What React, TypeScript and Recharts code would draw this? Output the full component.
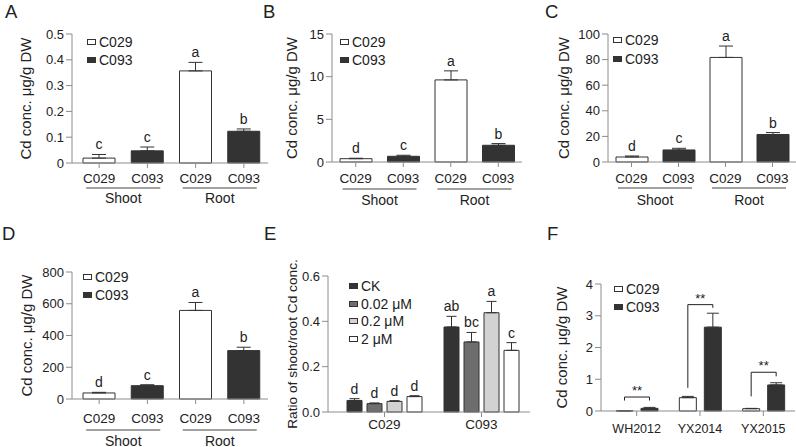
import React from "react";
import { BarChart, Bar, XAxis, YAxis, ErrorBar, LabelList, Cell } from "recharts";

const FONT = '"Liberation Sans", Arial, sans-serif';
const INK = "#222222";
const AXIS = "#8c8c8c";
const DARK = "#333333";
const CD_LABEL = "Cd conc. μg/g DW";

// A–D: two genotypes, shoot and root
const genotypes = ["C029", "C093", "C029", "C093"];
const tissues = ["Shoot", "Shoot", "Root", "Root"];

const aTicks = [0, 0.1, 0.2, 0.3, 0.4, 0.5];
const aMean = [0.019, 0.047, 0.357, 0.123];
const aSd = [0.014, 0.015, 0.033, 0.009];
const aLetters = ["c", "c", "a", "b"];

const bTicks = [0, 5, 10, 15];
const bMean = [0.39, 0.67, 9.62, 1.96];
const bSd = [0.05, 0.12, 1.06, 0.2];
const bLetters = ["d", "c", "a", "b"];

const cTicks = [0, 20, 40, 60, 80, 100];
const cMean = [3.9, 9.4, 81.7, 21.5];
const cSd = [0.8, 1.3, 8.9, 1.5];
const cLetters = ["d", "c", "a", "b"];

const dTicks = [0, 200, 400, 600, 800];
const dMean = [38, 84, 558, 305];
const dSd = [4, 6, 50, 21];
const dLetters = ["d", "c", "a", "b"];

// E: shoot/root ratio under four Cd levels
const eGroups = ["C029", "C093"];
const eLevels = ["CK", "0.02 μM", "0.2 μM", "2 μM"];
const eCK = [0.051, 0.375];
const eCKSd = [0.008, 0.047];
const e002 = [0.037, 0.309];
const e002Sd = [0.003, 0.042];
const e02 = [0.047, 0.438];
const e02Sd = [0.003, 0.05];
const e2 = [0.068, 0.272];
const e2Sd = [0.004, 0.034];
const eCKLetters = ["d", "ab"];
const e002Letters = ["d", "bc"];
const e02Letters = ["d", "a"];
const e2Letters = ["d", "c"];
const eTicks = [0, 0.2, 0.4, 0.6];

// F: field trials
const fSites = ["WH2012", "YX2014", "YX2015"];
const fC029 = [0.005, 0.42, 0.073];
const fC029Sd = [0, 0.04, 0.01];
const fC093 = [0.084, 2.64, 0.82];
const fC093Sd = [0.03, 0.44, 0.07];
const fBracketTop = [0.44, 3.35, 1.22];
const fBracketLeft = [0.33, 0.73, 0.46];
const fBracketRight = [0.33, 3.25, 1.09];
const fTicks = [0, 1, 2, 3, 4];

const genotypeFill = ["#ffffff", DARK, "#ffffff", DARK];
const eFills = [DARK, "#6e6e6e", "#d2d2d2", "#ffffff"];

function letterContent(means: number[], sds: number[], letters: string[]) {
  return (props: any) => {
    const vb = props.viewBox ?? props;
    const i = props.index;
    const v = means[i];
    if (!letters[i] || !v) return null;
    const k = vb.height / v;
    const base = vb.y + vb.height;
    const top = base - (v + sds[i]) * k;
    return (
      <text x={vb.x + vb.width / 2} y={top - 5} textAnchor="middle" fontSize={14} fill={INK} fontFamily={FONT}>
        {letters[i]}
      </text>
    );
  };
}

function GroupTick(props: any) {
  const { x, y, payload, lineDy, textDy } = props;
  return (
    <g>
      <line x1={x - 37} x2={x + 37} y1={y + lineDy} y2={y + lineDy} stroke="#444" strokeWidth={1.2} />
      <text x={x} y={y + textDy} textAnchor="middle" fontSize={14} fill={INK} fontFamily={FONT}>
        {payload.value}
      </text>
    </g>
  );
}

function Key({ x, y, rowH, items }: { x: number; y: number; rowH: number; items: { name: string; fill: string }[] }) {
  return (
    <>
      {items.map((it, i) => (
        <div
          key={it.name}
          style={{
            position: "absolute",
            left: x,
            top: y + i * rowH - 9,
            height: 18,
            display: "flex",
            alignItems: "center",
            fontSize: 14,
            whiteSpace: "nowrap",
          }}
        >
          <span
            style={{
              display: "inline-block",
              width: 7,
              height: 4,
              border: `1px solid ${DARK}`,
              background: it.fill,
              marginRight: 3,
            }}
          />
          {it.name}
        </div>
      ))}
    </>
  );
}

const xTick = { fontSize: 13.5, fill: INK, fontFamily: FONT };
const yTick = { fontSize: 13, fill: INK, fontFamily: FONT };

interface CdPanelProps {
  left: number;
  top: number;
  width: number;
  height: number;
  margin: { top: number; right: number; bottom: number; left: number };
  yWidth: number;
  labelX: number;
  ticks: number[];
  means: number[];
  sds: number[];
  letters: string[];
  tickMargin: number;
  axisH: number;
  groupH: number;
  lineDy: number;
  textDy: number;
  padLeft: number;
}

function CdPanel(p: CdPanelProps) {
  const rows = genotypes.map((g, i) => ({
    genotype: g,
    tissue: tissues[i],
    mean: p.means[i],
    err: [0, p.sds[i]],
  }));
  const max = p.ticks[p.ticks.length - 1];
  return (
    <div style={{ position: "absolute", left: p.left, top: p.top }}>
      <BarChart width={p.width} height={p.height} data={rows} margin={p.margin} barSize={32}>
        <XAxis
          dataKey="genotype"
          interval={0}
          tickSize={5}
          tickMargin={p.tickMargin}
          height={p.axisH}
          padding={{ left: p.padLeft, right: 0 }}
          stroke={AXIS}
          tick={xTick}
        />
        <XAxis
          xAxisId="grp"
          dataKey="tissue"
          allowDuplicatedCategory={false}
          axisLine={false}
          tickLine={false}
          tickSize={0}
          tickMargin={0}
          height={p.groupH}
          interval={0}
          padding={{ left: p.padLeft, right: 0 }}
          tick={<GroupTick lineDy={p.lineDy} textDy={p.textDy} />}
        />
        <YAxis
          width={p.yWidth}
          domain={[0, max]}
          ticks={p.ticks}
          interval={0}
          tickSize={6}
          tickMargin={2}
          stroke={AXIS}
          tick={yTick}
          label={{
            value: CD_LABEL,
            angle: -90,
            position: "insideLeft",
            offset: p.labelX,
            style: { textAnchor: "middle", fontSize: 15, fill: INK, fontFamily: FONT },
          }}
        />
        <Bar dataKey="mean" stroke={DARK} strokeWidth={1} isAnimationActive={false}>
          {rows.map((r, i) => (
            <Cell key={i} fill={genotypeFill[i]} />
          ))}
          <ErrorBar dataKey="err" direction="y" width={7} stroke={DARK} strokeWidth={1} />
          <LabelList dataKey="mean" content={letterContent(p.means, p.sds, p.letters)} />
        </Bar>
      </BarChart>
    </div>
  );
}

function RatioPanel() {
  const means = [eCK, e002, e02, e2];
  const sds = [eCKSd, e002Sd, e02Sd, e2Sd];
  const letters = [eCKLetters, e002Letters, e02Letters, e2Letters];
  const rows = eGroups.map((g, i) => {
    const r: any = { group: g };
    means.forEach((m, s) => {
      r[`s${s}`] = m[i];
      r[`e${s}`] = [0, sds[s][i]];
    });
    return r;
  });
  return (
    <div style={{ position: "absolute", left: 265, top: 222 }}>
      <BarChart
        width={265}
        height={225}
        data={rows}
        margin={{ top: 54, right: 0, bottom: 0, left: 0 }}
        barSize={15}
        barGap={5}
      >
        <XAxis
          dataKey="group"
          interval={0}
          tickSize={5}
          tickMargin={2}
          height={35}
          padding={{ left: 8, right: 0 }}
          stroke={AXIS}
          tick={xTick}
        />
        <YAxis
          width={63}
          domain={[0, 0.6]}
          ticks={eTicks}
          interval={0}
          tickSize={6}
          tickMargin={2}
          stroke={AXIS}
          tick={yTick}
          tickFormatter={(v: number) => v.toFixed(1)}
          label={{
            value: "Ratio of shoot/root Cd conc.",
            angle: -90,
            position: "insideLeft",
            offset: 27,
            style: { textAnchor: "middle", fontSize: 13.7, fill: INK, fontFamily: FONT },
          }}
        />
        {eLevels.map((lvl, s) => (
          <Bar key={lvl} dataKey={`s${s}`} fill={eFills[s]} stroke={DARK} strokeWidth={1} isAnimationActive={false}>
            <ErrorBar dataKey={`e${s}`} direction="y" width={5} stroke={DARK} strokeWidth={1} />
            <LabelList dataKey={`s${s}`} content={letterContent(means[s], sds[s], letters[s])} />
          </Bar>
        ))}
      </BarChart>
    </div>
  );
}

const F_GAP = 8;

function bracketContent(props: any) {
  const vb = props.viewBox ?? props;
  const i = props.index;
  const k = vb.height / fC093[i];
  const base = vb.y + vb.height;
  const xr = vb.x + vb.width / 2;
  const xl = xr - vb.width - F_GAP;
  const yTop = base - fBracketTop[i] * k;
  const yl = base - fBracketLeft[i] * k;
  const yr = base - fBracketRight[i] * k;
  return (
    <g>
      <path d={`M${xl},${yl}V${yTop}H${xr}V${yr}`} fill="none" stroke={INK} strokeWidth={1} />
      <text x={(xl + xr) / 2} y={yTop - 2} textAnchor="middle" fontSize={13} fill={INK} fontFamily={FONT}>
        **
      </text>
    </g>
  );
}

function FieldPanel() {
  const rows = fSites.map((s, i) => ({
    site: s,
    c029: fC029[i],
    c029Err: [0, fC029Sd[i]],
    c093: fC093[i],
    c093Err: [0, fC093Sd[i]],
  }));
  return (
    <div style={{ position: "absolute", left: 530, top: 222 }}>
      <BarChart
        width={266}
        height={225}
        data={rows}
        margin={{ top: 62, right: 1, bottom: 0, left: 0 }}
        barSize={17}
        barGap={F_GAP}
      >
        <XAxis
          dataKey="site"
          interval={0}
          tickSize={5}
          tickMargin={8}
          height={36}
          padding={{ left: 4, right: 0 }}
          stroke={AXIS}
          tick={{ ...xTick, fontSize: 12.5 }}
        />
        <YAxis
          width={71}
          domain={[0, 4]}
          ticks={fTicks}
          interval={0}
          tickSize={6}
          tickMargin={2}
          stroke={AXIS}
          tick={yTick}
          label={{
            value: CD_LABEL,
            angle: -90,
            position: "insideLeft",
            offset: 32,
            style: { textAnchor: "middle", fontSize: 15, fill: INK, fontFamily: FONT },
          }}
        />
        <Bar dataKey="c029" fill="#ffffff" stroke={DARK} strokeWidth={1} isAnimationActive={false}>
          <ErrorBar dataKey="c029Err" direction="y" width={6} stroke={DARK} strokeWidth={1} />
        </Bar>
        <Bar dataKey="c093" fill={DARK} stroke={DARK} strokeWidth={1} isAnimationActive={false}>
          <ErrorBar dataKey="c093Err" direction="y" width={6} stroke={DARK} strokeWidth={1} />
          <LabelList dataKey="c093" content={bracketContent} />
        </Bar>
      </BarChart>
    </div>
  );
}

const genotypeKey = [
  { name: "C029", fill: "#ffffff" },
  { name: "C093", fill: DARK },
];

export default function App() {
  return (
    <div
      style={{
        position: "absolute",
        left: 0,
        top: 0,
        width: 796,
        height: 447,
        background: "#fff",
        overflow: "hidden",
        fontFamily: FONT,
        color: INK,
      }}
    >
      <svg width={796} height={447} style={{ position: "absolute", left: 0, top: 0 }}>
        {[
          ["A", 5, 18],
          ["B", 263, 18],
          ["C", 545, 18],
          ["D", 2, 240],
          ["E", 264, 240],
          ["F", 547, 240],
        ].map(([t, x, y]) => (
          <text key={t as string} x={x as number} y={y as number} fontSize={18.5} fill={INK} fontFamily={FONT}>
            {t}
          </text>
        ))}
      </svg>

      <CdPanel
        left={0} top={0} width={272} height={215}
        margin={{ top: 34, right: 4, bottom: 0, left: 0 }}
        yWidth={72} labelX={26} ticks={aTicks} means={aMean} sds={aSd} letters={aLetters}
        tickMargin={5} axisH={22} groupH={30} lineDy={3} textDy={18} padLeft={3}
      />
      <CdPanel
        left={265} top={0} width={260} height={214}
        margin={{ top: 34, right: 3, bottom: 0, left: 0 }}
        yWidth={67} labelX={27} ticks={bTicks} means={bMean} sds={bSd} letters={bLetters}
        tickMargin={6} axisH={22} groupH={30} lineDy={5} textDy={21} padLeft={0}
      />
      <CdPanel
        left={530} top={0} width={266} height={214}
        margin={{ top: 34, right: 0, bottom: 0, left: 0 }}
        yWidth={78} labelX={34} ticks={cTicks} means={cMean} sds={cSd} letters={cLetters}
        tickMargin={6} axisH={22} groupH={30} lineDy={4} textDy={21} padLeft={0}
      />
      <CdPanel
        left={0} top={222} width={272} height={225}
        margin={{ top: 50, right: 4, bottom: 0, left: 0 }}
        yWidth={72} labelX={27} ticks={dTicks} means={dMean} sds={dSd} letters={dLetters}
        tickMargin={9} axisH={26} groupH={22} lineDy={5} textDy={20.5} padLeft={3}
      />
      <RatioPanel />
      <FieldPanel />

      <Key x={87} y={42} rowH={18} items={genotypeKey} />
      <Key x={340} y={42} rowH={18} items={genotypeKey} />
      <Key x={613} y={40} rowH={19} items={genotypeKey} />
      <Key x={83} y={277} rowH={18} items={genotypeKey} />
      <Key x={349} y={286} rowH={17.7} items={eLevels.map((n, s) => ({ name: n, fill: eFills[s] }))} />
      <Key x={614} y={289} rowH={18} items={genotypeKey} />
    </div>
  );
}
